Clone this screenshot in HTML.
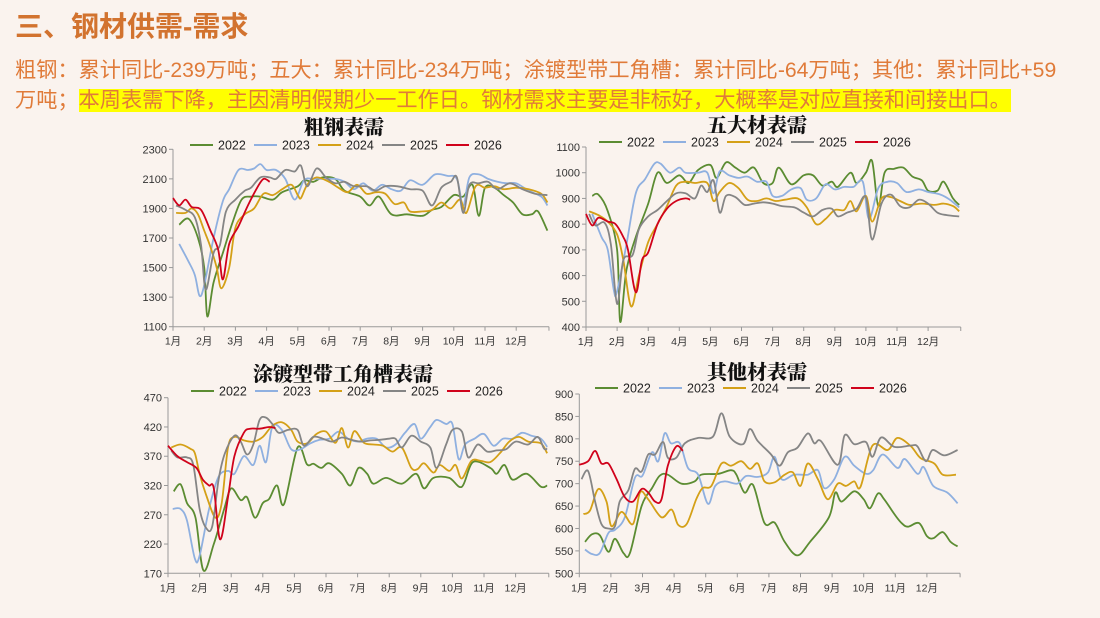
<!DOCTYPE html>
<html><head><meta charset="utf-8">
<style>
body{margin:0;width:1100px;height:618px;background:#faf3ee;overflow:hidden;font-family:"Liberation Sans","Noto Sans CJK SC",sans-serif;position:relative}
.h{position:absolute;left:15px;top:5px;font-size:28px;font-weight:bold;color:#d2732f;letter-spacing:0}
.p{position:absolute;left:15px;font-size:21.2px;color:#e07b39;white-space:nowrap;line-height:26px}
.hl{background:#ffff00}
svg{position:absolute;left:0;top:0}
</style></head><body>
<div class="h">三、钢材供需-需求</div>
<div class="p" style="top:58px">粗钢：累计同比-239万吨；五大：累计同比-234万吨；涂镀型带工角槽：累计同比-64万吨；其他：累计同比+59</div>
<div class="p" style="top:88px">万吨；<span class="hl">本周表需下降，主因清明假期少一工作日。钢材需求主要是非标好，大概率是对应直接和间接出口。</span></div>
<svg id="s" width="1100" height="618" xmlns="http://www.w3.org/2000/svg"></svg>
<script>
const C=['#5b8c32','#8fb0e0','#d4a017','#858585','#d0021b'],Y=['2022','2023','2024','2025','2026'];
const charts=[
{t:'粗钢表需',tx:344,ty:134,lx:190,ly:145,x0:173,st:31.2,ya:149.3,yb:326.7,va:2300,vb:1100,ticks:[1100,1300,1500,1700,1900,2100,2300],axl:168,
d:[[[0.2,1790],[0.5,1830],[0.8,1700],[1.0,1500],[1.1,1170],[1.3,1400],[1.6,1600],[1.9,1800],[2.2,1960],[2.5,1980],[2.8,1980],[3.2,1960],[3.5,2010],[4,2050],[4.2,2090],[4.5,2080],[4.8,2110],[5.2,2100],[5.5,2020],[6,1980],[6.3,1920],[6.6,1980],[7,1860],[7.5,1860],[8,1850],[8.3,1890],[8.6,1910],[9,1990],[9.3,1980],[9.6,2060],[9.8,1850],[10,2040],[10.3,2040],[10.6,1990],[10.9,1940],[11.2,1860],[11.5,1860],[11.7,1880],[12,1750]],
[[0.2,1660],[0.5,1540],[0.7,1450],[0.85,1310],[1.0,1380],[1.3,1700],[1.6,1950],[1.8,2030],[2.1,2160],[2.4,2160],[2.6,2170],[2.8,2200],[3.0,2160],[3.3,2160],[3.6,2100],[3.9,1960],[4.2,2090],[4.5,2100],[4.8,2100],[5.2,2100],[5.5,2080],[5.8,2030],[6.1,2070],[6.4,2020],[6.7,2060],[7,2030],[7.3,2020],[7.6,2090],[8,2060],[8.4,2130],[8.8,2120],[9.1,2100],[9.3,1920],[9.5,2110],[9.8,2130],[10.1,2100],[10.4,2080],[10.7,2070],[11,2070],[11.4,2020],[11.8,1980],[12,1920]],
[[0.1,1870],[0.4,1870],[0.6,1900],[0.8,1860],[1.0,1750],[1.2,1640],[1.4,1500],[1.55,1360],[1.8,1500],[2.0,1770],[2.3,1860],[2.6,1900],[2.9,2000],[3.2,1990],[3.5,2030],[3.8,2060],[4.0,1990],[4.1,1970],[4.3,2060],[4.6,2110],[5.0,2080],[5.3,2040],[5.6,2010],[5.9,2060],[6.2,2000],[6.5,2010],[6.8,2000],[7.1,1930],[7.4,1940],[7.6,1880],[8,1880],[8.3,1890],[8.6,1940],[8.9,1900],[9.2,1960],[9.4,1870],[9.7,2050],[10,2040],[10.3,2050],[10.6,2030],[11,2040],[11.4,2030],[11.8,2000],[12,1940]],
[[0.1,1920],[0.4,1890],[0.7,1840],[0.9,1650],[1.05,1350],[1.3,1600],[1.5,1650],[1.7,1880],[2.0,1960],[2.3,2020],[2.5,2040],[2.8,2110],[3.1,2110],[3.3,2100],[3.6,2160],[3.9,2150],[4.1,2190],[4.3,2050],[4.6,2170],[4.9,2110],[5.2,2070],[5.5,2080],[5.8,2050],[6.2,2050],[6.5,2020],[6.8,2050],[7.2,2050],[7.6,2030],[8,2020],[8.3,1920],[8.6,2040],[8.9,2080],[9.1,2110],[9.3,1870],[9.5,2060],[9.8,2070],[10.1,2080],[10.4,2030],[10.8,2070],[11.2,2030],[11.6,2000],[12,1990]],
[[0,1970],[0.2,1920],[0.4,1960],[0.6,1910],[0.9,1890],[1.2,1750],[1.45,1620],[1.6,1420],[1.8,1660],[2.1,1780],[2.4,1920],[2.7,2040],[2.9,2100],[3.1,2080]]]},
{t:'五大材表需',tx:757,ty:132,lx:599,ly:142,x0:586,st:31.1,ya:147,yb:327,va:1100,vb:400,ticks:[400,500,600,700,800,900,1000,1100],axl:581,
d:[[[0.2,910],[0.4,915],[0.7,850],[1.0,700],[1.1,420],[1.3,620],[1.6,750],[2.0,880],[2.3,1000],[2.6,960],[3.0,990],[3.3,960],[3.6,1010],[4.0,1030],[4.2,980],[4.5,1040],[4.8,1020],[5.1,1000],[5.4,1020],[5.7,960],[6.0,960],[6.2,1020],[6.6,955],[7.0,990],[7.3,990],[7.6,950],[7.9,965],[8.1,945],[8.5,1000],[8.7,960],[9.0,1000],[9.2,1045],[9.4,870],[9.6,1000],[9.9,1015],[10.2,1020],[10.5,985],[10.8,970],[11.0,930],[11.3,930],[11.5,965],[11.8,900],[12.0,875]],
[[0.2,840],[0.5,750],[0.7,700],[0.9,540],[1.0,540],[1.3,720],[1.6,920],[1.9,975],[2.2,1035],[2.4,1035],[2.7,1000],[3.0,1020],[3.2,1000],[3.6,1000],[3.9,1000],[4.1,920],[4.3,1005],[4.6,990],[4.9,980],[5.2,985],[5.5,965],[5.8,965],[6.0,910],[6.3,910],[6.6,935],[6.9,940],[7.1,895],[7.4,900],[7.7,955],[8.0,935],[8.3,945],[8.6,945],[8.9,965],[9.1,820],[9.4,940],[9.7,965],[10.0,960],[10.3,925],[10.7,935],[11.0,925],[11.4,915],[11.7,895],[12.0,865]],
[[0.1,850],[0.4,835],[0.7,810],[1.0,760],[1.2,660],[1.45,480],[1.7,600],[2.0,730],[2.3,800],[2.6,870],[2.9,950],[3.2,965],[3.5,960],[3.9,960],[4.1,890],[4.3,925],[4.6,960],[4.9,940],[5.2,895],[5.5,890],[5.8,900],[6.1,890],[6.4,895],[6.8,900],[7.1,865],[7.4,800],[7.7,820],[8.0,855],[8.3,855],[8.5,890],[8.7,850],[9.0,910],[9.2,810],[9.5,900],[9.8,905],[10.1,890],[10.4,875],[10.8,880],[11.2,875],[11.5,880],[11.8,870],[12.0,850]],
[[0.1,840],[0.3,795],[0.6,805],[0.8,720],[1.0,490],[1.2,660],[1.5,680],[1.7,780],[2.0,830],[2.3,855],[2.6,890],[2.9,920],[3.2,920],[3.5,900],[3.7,950],[3.9,925],[4.1,970],[4.3,845],[4.5,910],[4.8,905],[5.1,875],[5.4,880],[5.7,885],[6.0,880],[6.3,870],[6.7,865],[7.0,845],[7.3,830],[7.6,855],[7.9,860],[8.1,830],[8.4,845],[8.7,860],[9.0,905],[9.2,740],[9.5,880],[9.8,915],[10.1,870],[10.4,865],[10.7,895],[11.0,880],[11.3,845],[11.6,835],[12.0,830]],
[[0,840],[0.2,795],[0.4,825],[0.7,810],[0.95,800],[1.2,750],[1.35,700],[1.6,535],[1.8,660],[2.0,690],[2.3,800],[2.6,860],[2.9,890],[3.2,900],[3.35,895]]]},
{t:'涂镀型带工角槽表需',tx:343,ty:381,lx:191,ly:391,x0:168,st:31.6,ya:397.7,yb:573.3,va:470,vb:170,ticks:[170,220,270,320,370,420,470],axl:164,
d:[[[0.18,310],[0.4,322],[0.6,290],[0.87,265],[1.12,175],[1.45,220],[1.78,280],[2.0,315],[2.3,295],[2.5,300],[2.75,265],[3.0,290],[3.2,297],[3.45,320],[3.67,288],[4.1,385],[4.4,356],[4.6,357],[4.85,350],[5.1,358],[5.5,340],[5.77,320],[6.03,350],[6.3,340],[6.5,323],[6.9,333],[7.4,323],[7.85,340],[8.1,315],[8.4,333],[8.9,333],[9.3,318],[9.65,360],[10.2,350],[10.4,340],[10.65,355],[10.9,330],[11.35,340],[11.8,318],[12.0,320]],
[[0.15,280],[0.4,280],[0.6,260],[0.85,195],[1.0,200],[1.3,280],[1.6,335],[1.9,345],[2.1,340],[2.4,370],[2.7,355],[2.9,388],[3.1,360],[3.3,420],[3.6,415],[3.9,382],[4.2,382],[4.5,392],[4.8,398],[5.1,400],[5.4,412],[5.7,400],[6.0,395],[6.3,400],[6.6,400],[6.9,385],[7.2,390],[7.5,410],[7.8,425],[8.0,400],[8.3,420],[8.5,432],[8.8,425],[9.0,425],[9.2,365],[9.4,390],[9.7,400],[10.0,408],[10.3,388],[10.6,400],[10.9,400],[11.2,410],[11.5,405],[11.8,400],[12.0,386]],
[[0.1,385],[0.4,390],[0.7,383],[0.85,375],[1.0,340],[1.2,305],[1.5,265],[1.7,290],[1.9,385],[2.1,403],[2.4,397],[2.7,395],[3.0,403],[3.3,422],[3.6,428],[3.9,415],[4.1,395],[4.4,392],[4.7,408],[5.0,412],[5.3,393],[5.5,418],[5.7,385],[5.9,413],[6.2,393],[6.5,390],[6.8,388],[7.1,378],[7.4,385],[7.7,350],[7.9,348],[8.1,358],[8.4,342],[8.6,355],[8.9,345],[9.1,355],[9.3,332],[9.6,362],[9.9,362],[10.2,360],[10.5,375],[10.8,395],[11.1,403],[11.4,395],[11.8,392],[12.0,375]],
[[0.1,380],[0.3,368],[0.6,368],[0.8,355],[1.0,280],[1.2,248],[1.4,250],[1.6,330],[1.8,375],[2.1,405],[2.3,395],[2.5,373],[2.7,390],[2.9,432],[3.1,436],[3.3,425],[3.5,410],[3.8,415],[4.1,415],[4.3,388],[4.6,403],[4.9,400],[5.2,395],[5.5,402],[5.8,398],[6.1,395],[6.4,397],[6.7,398],[7.0,400],[7.2,400],[7.4,385],[7.7,405],[8.0,395],[8.3,385],[8.5,350],[8.8,390],[9.0,415],[9.3,412],[9.5,368],[9.8,390],[10.1,378],[10.4,380],[10.7,382],[11.0,395],[11.4,390],[11.7,403],[11.9,383],[12.0,383]],
[[0,388],[0.3,370],[0.6,360],[0.9,350],[1.1,330],[1.3,320],[1.45,315],[1.65,228],[1.9,300],[2.1,370],[2.4,410],[2.6,417],[2.9,417],[3.2,420],[3.4,418]]]},
{t:'其他材表需',tx:757,ty:379,lx:595,ly:388,x0:579.3,st:31.6,ya:394,yb:573.3,va:900,vb:500,ticks:[500,550,600,650,700,750,800,850,900],axl:575,
d:[[[0.18,570],[0.4,587],[0.65,585],[0.92,548],[1.13,577],[1.4,545],[1.6,545],[1.97,650],[2.3,690],[2.55,718],[2.8,720],[3.23,700],[3.65,705],[3.86,720],[4.4,722],[4.8,730],[4.97,720],[5.23,680],[5.5,697],[5.86,612],[6.18,613],[6.5,570],[6.9,540],[7.3,570],[7.9,625],[8.1,680],[8.3,660],[8.7,683],[9.0,665],[9.2,645],[9.45,678],[9.65,665],[9.97,632],[10.2,612],[10.4,604],[10.75,612],[11.0,583],[11.2,578],[11.5,592],[11.75,570],[11.97,560]],
[[0.18,553],[0.4,543],[0.65,545],[0.92,590],[1.13,597],[1.44,625],[1.76,713],[2.0,718],[2.3,770],[2.5,750],[2.7,812],[2.9,790],[3.18,790],[3.44,735],[3.76,720],[4.07,655],[4.3,695],[4.6,705],[5.0,700],[5.28,717],[5.65,715],[5.97,725],[6.18,760],[6.4,710],[6.8,720],[7.23,720],[7.55,730],[7.75,690],[8.07,710],[8.4,760],[8.7,740],[9.07,722],[9.3,730],[9.6,765],[10.07,735],[10.3,755],[10.7,722],[10.9,737],[11.2,695],[11.65,680],[11.97,656]],
[[0.13,632],[0.34,640],[0.6,688],[0.86,660],[1.02,605],[1.34,637],[1.7,610],[1.92,680],[2.18,665],[2.6,625],[2.92,642],[3.13,608],[3.4,610],[3.7,665],[3.9,690],[4.18,695],[4.5,745],[4.8,740],[5.13,750],[5.4,733],[5.65,745],[5.86,705],[6.18,703],[6.5,720],[6.76,725],[7.0,695],[7.23,745],[7.55,710],[7.86,665],[8.18,700],[8.44,695],[8.7,705],[8.9,693],[9.28,785],[9.76,775],[10.07,802],[10.5,783],[10.8,757],[11.23,745],[11.5,720],[11.92,720]],
[[0.07,710],[0.28,728],[0.5,660],[0.7,610],[0.92,600],[1.13,605],[1.28,660],[1.55,685],[1.76,733],[1.97,727],[2.18,765],[2.4,765],[2.65,793],[2.8,758],[3.07,758],[3.34,790],[3.76,802],[4.23,805],[4.5,857],[4.76,805],[5.18,788],[5.4,822],[5.65,795],[6.07,765],[6.34,740],[6.6,770],[6.9,780],[7.23,812],[7.44,790],[7.65,795],[8.18,742],[8.4,808],[8.7,788],[9.07,793],[9.28,760],[9.55,803],[9.97,782],[10.5,785],[10.7,783],[10.97,750],[11.18,775],[11.55,763],[11.97,775]],
[[0,742],[0.28,750],[0.5,773],[0.7,745],[0.92,745],[1.18,710],[1.44,670],[1.7,660],[1.97,688],[2.18,680],[2.4,660],[2.6,665],[2.8,740],[3.07,783],[3.28,773]]]}
];
let h='';
function cr(p){let s='M'+p[0][0].toFixed(1)+','+p[0][1].toFixed(1);for(let i=0;i<p.length-1;i++){const a=p[i-1]||p[i],b=p[i],c=p[i+1],d=p[i+2]||c;const k=1/6;s+='C'+(b[0]+(c[0]-a[0])*k).toFixed(1)+','+(b[1]+(c[1]-a[1])*k).toFixed(1)+' '+(c[0]-(d[0]-b[0])*k).toFixed(1)+','+(c[1]-(d[1]-b[1])*k).toFixed(1)+' '+c[0].toFixed(1)+','+c[1].toFixed(1);}return s;}
for(const c of charts){
 const X=i=>c.x0+i*c.st,V=v=>c.ya+(c.va-v)*(c.yb-c.ya)/(c.va-c.vb);
 h+=`<text x="${c.tx}" y="${c.ty}" font-family="Noto Serif CJK SC,serif" font-weight="900" font-size="20" text-anchor="middle" fill="#111">${c.t}</text>`;
 for(let k=0;k<5;k++){const lx=c.lx+k*64;h+=`<line x1="${lx}" y1="${c.ly}" x2="${lx+23}" y2="${c.ly}" stroke="${C[k]}" stroke-width="2"/><text x="${lx+28}" y="${c.ly+4.5}" font-size="12.5" fill="#222">${Y[k]}</text>`;}
 const xe=X(12.05);
 h+=`<line x1="${c.x0}" y1="${c.ya}" x2="${c.x0}" y2="${c.yb}" stroke="#999"/><line x1="${c.x0}" y1="${c.yb}" x2="${xe}" y2="${c.yb}" stroke="#999"/>`;
 for(const t of c.ticks){const y=V(t);h+=`<line x1="${c.x0-4}" y1="${y}" x2="${c.x0}" y2="${y}" stroke="#999"/><text x="${c.x0-6}" y="${y+4}" font-size="11" text-anchor="end" fill="#333">${t}</text>`;}
 for(let m=0;m<=12;m++){const x=m==12?xe:X(m);h+=`<line x1="${x}" y1="${c.yb}" x2="${x}" y2="${c.yb+4}" stroke="#999"/>`;if(m<12)h+=`<text x="${x}" y="${c.yb+18}" font-size="10.5" text-anchor="middle" fill="#333">${m+1}月</text>`;}
 c.d.forEach((s,k)=>{const p=s.map(q=>[X(q[0]),V(q[1])]);h+=`<path d="${cr(p)}" fill="none" stroke="${C[k]}" stroke-width="1.8"/>`;});
}
document.getElementById('s').innerHTML=h;
</script>
</body></html>
